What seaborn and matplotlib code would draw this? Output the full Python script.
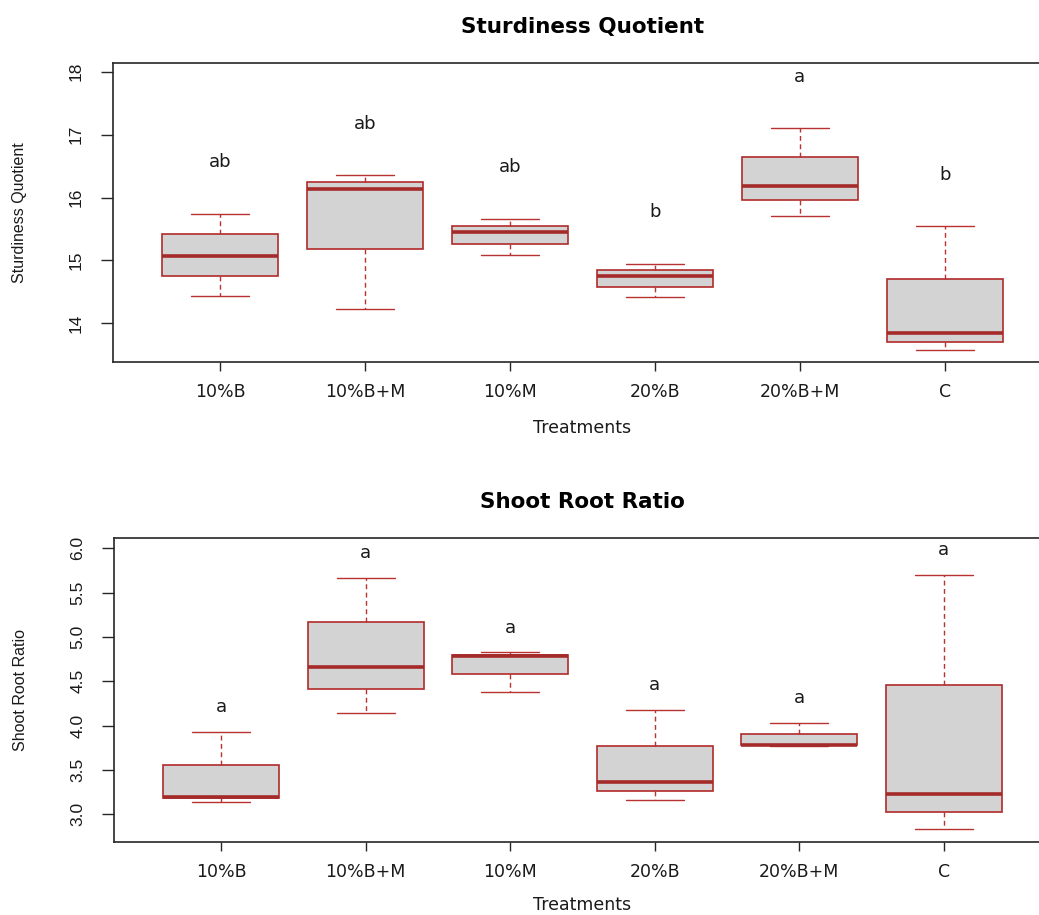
import numpy as np
import pandas as pd
import matplotlib
matplotlib.use("Agg")
import matplotlib.pyplot as plt
import seaborn as sns

# ---- data: five-number summaries per treatment ----
treatments = ["10%B", "10%B+M", "10%M", "20%B", "20%B+M", "C"]

sq_low = [14.43, 14.22, 15.09, 14.41, 15.71, 13.57]
sq_q1 = [14.75, 15.18, 15.26, 14.58, 15.96, 13.71]
sq_median = [15.07, 16.14, 15.45, 14.75, 16.19, 13.85]
sq_q3 = [15.415, 16.24, 15.55, 14.85, 16.65, 14.70]
sq_high = [15.74, 16.35, 15.66, 14.95, 17.10, 15.54]
sq_letters = ["ab", "ab", "ab", "b", "a", "b"]

srr_low = [3.14, 4.14, 4.38, 3.16, 3.77, 2.83]
srr_q1 = [3.18, 4.41, 4.58, 3.26, 3.78, 3.03]
srr_median = [3.19, 4.665, 4.78, 3.36, 3.785, 3.225]
srr_q3 = [3.56, 5.165, 4.80, 3.77, 3.91, 4.46]
srr_high = [3.93, 5.67, 4.83, 4.18, 4.03, 5.70]
srr_letters = ["a", "a", "a", "a", "a", "a"]

sq_yticks = [14, 15, 16, 17, 18]
srr_yticks = [3.0, 3.5, 4.0, 4.5, 5.0, 5.5, 6.0]

# ---- styling ----
sns.set_theme(style="ticks")
plt.rcParams["font.family"] = ["DejaVu Sans"]

FILL = "#D3D3D3"
EDGE = "#B22A2A"
WHISK = "#B83232"
MEDIAN = "#A52A2A"
INK = "#1A1A1A"
SPINE = "#262626"

FIG_W, FIG_H = 1039, 915
fig = plt.figure(figsize=(FIG_W / 100, FIG_H / 100), dpi=100)
fig.patch.set_facecolor("white")


def add_axes_px(left, right, top, bottom):
    return fig.add_axes([left / FIG_W, 1 - bottom / FIG_H,
                         (right - left) / FIG_W, (bottom - top) / FIG_H])


def summary_frame(low, q1, med, q3, high):
    rows = []
    for t, *vals in zip(treatments, low, q1, med, q3, high):
        for v in vals:
            rows.append({"Treatment": t, "value": v})
    return pd.DataFrame(rows)


def draw_panel(ax, box_px, df, high, letters, letter_off, ylim, yticks,
               fmt, title, ylabel, title_base_px, xlabel_base_px, ylabel_x_px):
    left, right, top, bottom = box_px
    sns.boxplot(
        data=df, x="Treatment", y="value", order=treatments, ax=ax,
        color=FILL, linecolor=EDGE, saturation=1, width=0.8, linewidth=1.2,
        whis=(0, 100), showfliers=False,
        medianprops=dict(color=MEDIAN, linewidth=2.6),
        whiskerprops=dict(color=WHISK, linewidth=1.0, linestyle=(0, (3.5, 2.5))),
        capprops=dict(color=WHISK, linewidth=1.0),
    )
    for i, (lab, h) in enumerate(zip(letters, high)):
        ax.text(i, h + letter_off, lab, ha="center", va="baseline",
                fontsize=13, color=INK, family="DejaVu Sans")

    ax.set_xlim(-0.74, 5.74)
    ax.set_ylim(*ylim)
    ax.set_yticks(yticks)
    ax.set_yticklabels([fmt.format(v) for v in yticks])

    ax.tick_params(axis="x", length=6.5, width=1.0, pad=9, labelsize=12.5,
                   colors=SPINE, labelcolor=INK)
    ax.tick_params(axis="y", length=9, width=1.0, pad=12, labelsize=12.5,
                   labelrotation=90, colors=SPINE, labelcolor=INK)
    for lbl in ax.get_yticklabels():
        lbl.set_va("center")
        lbl.set_family("Liberation Sans")

    for side in ["left", "bottom", "top"]:
        ax.spines[side].set_color(SPINE)
        ax.spines[side].set_linewidth(1.2)
    ax.spines["right"].set_visible(False)

    h_px = bottom - top
    w_px = right - left
    ax.set_xlabel("Treatments", fontsize=12.5, color=INK)
    ax.xaxis.set_label_coords(0.5, (bottom - xlabel_base_px) / h_px)
    ax.xaxis.label.set_va("baseline")

    ax.set_ylabel(ylabel, fontsize=11.5, color=INK, family="Liberation Sans")
    ax.yaxis.set_label_coords((ylabel_x_px - left) / w_px, 0.5)
    ax.yaxis.label.set_va("center")

    ax.set_title(title, fontsize=15.5, fontweight="bold", color="#000000",
                 y=(bottom - title_base_px) / h_px, pad=0)
    ax.title.set_va("baseline")


top_box = (112.7, 1052.0, 63.3, 361.7)
bot_box = (114.3, 1050.7, 538.3, 841.7)
ax1 = add_axes_px(*top_box)
ax2 = add_axes_px(*bot_box)

draw_panel(ax1, top_box, summary_frame(sq_low, sq_q1, sq_median, sq_q3, sq_high),
           sq_high, sq_letters, 0.74, (13.389, 18.134), sq_yticks, "{:.0f}",
           "Sturdiness Quotient", "Sturdiness Quotient", 33.3, 433.0, 19.5)

draw_panel(ax2, bot_box, summary_frame(srr_low, srr_q1, srr_median, srr_q3, srr_high),
           srr_high, srr_letters, 0.22, (2.691, 6.113), srr_yticks, "{:.1f}",
           "Shoot Root Ratio", "Shoot Root Ratio", 508.3, 910.0, 21.0)

fig.savefig("out.png", dpi=100, facecolor="white")
